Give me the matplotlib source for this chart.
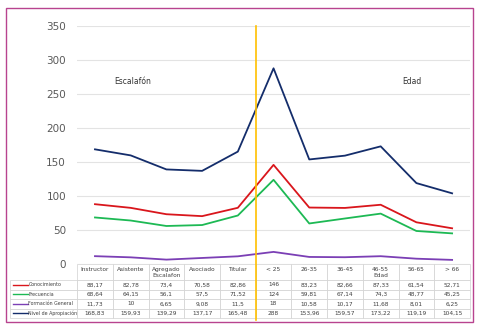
import matplotlib
matplotlib.use("Agg")
import matplotlib.pyplot as plt
from matplotlib.patches import Rectangle

# categorias (escalafon + edad)
categorias = ["Instructor", "Asistente", "Agregado", "Asociado", "Titular",
              "< 25", "26-35", "36-45", "46-55", "56-65", "> 66"]
grupos = ["", "", "Escalafon", "", "", "", "", "", "Edad", "", ""]

conocimiento = [88.17, 82.78, 73.4, 70.58, 82.86, 146, 83.23, 82.66, 87.33, 61.54, 52.71]
frecuencia = [68.64, 64.15, 56.1, 57.5, 71.52, 124, 59.81, 67.14, 74.3, 48.77, 45.25]
formacion = [11.73, 10, 6.65, 9.08, 11.5, 18, 10.58, 10.17, 11.68, 8.01, 6.25]
apropiacion = [168.83, 159.93, 139.29, 137.17, 165.48, 288, 153.96, 159.57, 173.22, 119.19, 104.15]

series = [
    ("Conocimiento", conocimiento, "#D9161C"),
    ("Frecuencia", frecuencia, "#1DB954"),
    ("Formación General", formacion, "#7B3FB5"),
    ("Nivel de Apropiación", apropiacion, "#142D6B"),
]

fig = plt.figure(figsize=(4.85, 3.31), dpi=100)
ax = fig.add_axes([0.159, 0.202, 0.810, 0.719])

x = list(range(len(categorias)))
for nombre, vals, color in series:
    ax.plot(x, vals, color=color, lw=1.3)

ax.set_xlim(-0.5, len(categorias) - 0.5)
ax.set_ylim(0, 350)
ax.set_yticks(range(0, 351, 50))
ax.set_xticks([])
ax.tick_params(axis="y", length=0, labelsize=7.5, labelcolor="#595959", pad=8)
ax.grid(axis="y", color="#E3E3E3", lw=0.8)
ax.set_axisbelow(True)
for s in ax.spines.values():
    s.set_visible(False)

ax.text(0.55, 268, "Escalafón", fontsize=5.5, color="#333333", va="center")
ax.text(8.6, 268, "Edad", fontsize=5.5, color="#333333", va="center")

# linea amarilla separando grupos
ax.axvline(4.5, ymin=-0.235, ymax=1.0, color="#FFC000", lw=1.2, clip_on=False, zorder=5)

# tabla de datos
def fmt(v):
    return f"{v:g}".replace(".", ",")

encabezado = [""] + [c + "\n" + g for c, g in zip(categorias, grupos)]
filas = [encabezado] + [[""] + [fmt(v) for v in vals] for _, vals, _ in series]
col0 = 0.170
anchos = [col0] + [1 / 11] * 11
tabla = ax.table(cellText=filas, colWidths=anchos, cellLoc="center",
                 bbox=[-col0, -0.227, 1 + col0, 0.227])
tabla.auto_set_font_size(False)
tabla.set_fontsize(4.2)
for (r, c), cell in tabla.get_celld().items():
    cell.set_edgecolor("#D0D0D0")
    cell.set_linewidth(0.5)
    cell.get_text().set_color("#404040")
    cell.set_height(16 if r == 0 else 9.5)
    if r == 0 and c == 0:
        cell.visible_edges = ""

# leyenda en la primera columna
alto = 0.227
for i, (nombre, vals, color) in enumerate(series):
    yc = -alto + (4 - i - 0.5) * (9.5 / 54) * alto
    ax.plot([-col0 + 0.006, -col0 + 0.044], [yc, yc], transform=ax.transAxes,
            color=color, lw=1.0, clip_on=False)
    ax.text(-col0 + 0.046, yc, nombre, transform=ax.transAxes, fontsize=3.4,
            color="#404040", va="center", ha="left")

# borde del grafico
fig.patches.append(Rectangle((6 / 485, 1 - 322 / 331), 467 / 485, 314 / 331,
                             transform=fig.transFigure, fill=False,
                             edgecolor="#B8438F", lw=1.0))

fig.savefig("out.png", dpi=100)
